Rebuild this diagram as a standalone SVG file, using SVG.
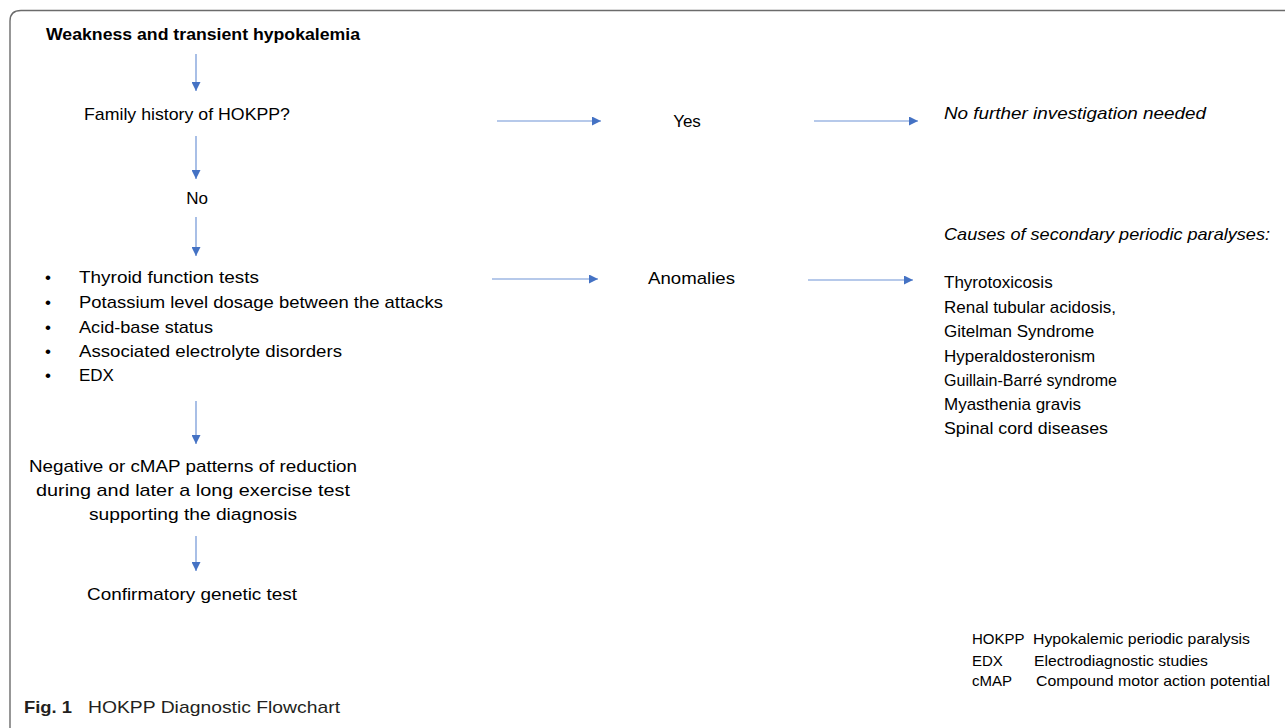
<svg xmlns="http://www.w3.org/2000/svg" width="1285" height="728" viewBox="0 0 1285 728">
  <defs>
    <marker id="ah" viewBox="0 0 10 10" refX="10" refY="5" markerWidth="9" markerHeight="9" markerUnits="userSpaceOnUse" orient="auto">
      <path d="M0,0 L10,5 L0,10 Z" fill="#4472C4"/>
    </marker>
    <style>
      text { font-family: "Liberation Sans", Arial, sans-serif; fill: #000; }
      .t { font-size: 17px; }
      .b { font-weight: bold; }
      .i { font-style: italic; }
      .s { font-size: 15px; }
      .cap { font-size: 17px; fill: #231f20; }
      .c { text-anchor: middle; }
      .edge { stroke: #6f94d6; stroke-width: 1.2; fill: none; marker-end: url(#ah); }
      .frame { stroke: #6b6b6b; stroke-width: 1.4; fill: none; }
    </style>
  </defs>
  <rect width="1285" height="728" fill="#fff"/>
  <path class="frame" d="M10,728 L10,21 Q10,10.5 21,10.5 L1285,10.5"/>

  <g id="connectors">
    <line class="edge" x1="196" y1="54" x2="196" y2="91"/>
    <line class="edge" x1="196" y1="136" x2="196" y2="179"/>
    <line class="edge" x1="196" y1="217" x2="196" y2="256"/>
    <line class="edge" x1="196" y1="401" x2="196" y2="444"/>
    <line class="edge" x1="196" y1="536" x2="196" y2="571"/>
    <line class="edge" x1="497" y1="121" x2="601" y2="121"/>
    <line class="edge" x1="814" y1="121" x2="918" y2="121"/>
    <line class="edge" x1="492" y1="279" x2="598" y2="279"/>
    <line class="edge" x1="808" y1="280" x2="913" y2="280"/>
  </g>

  <g id="n-start"><text class="t b" x="46" y="40" textLength="314" lengthAdjust="spacingAndGlyphs">Weakness and transient hypokalemia</text></g>
  <g id="n-family"><text class="t" x="84" y="120" textLength="206" lengthAdjust="spacingAndGlyphs">Family history of HOKPP?</text></g>
  <g id="n-yes"><text class="t c" x="687" y="127">Yes</text></g>
  <g id="n-nofurther"><text class="t i" x="944" y="119" textLength="262" lengthAdjust="spacingAndGlyphs">No further investigation needed</text></g>
  <g id="n-no"><text class="t c" x="197" y="204">No</text></g>
  <g id="n-tests">
    <text class="t" x="45" y="283">•</text><text class="t" x="79" y="283" textLength="180" lengthAdjust="spacingAndGlyphs">Thyroid function tests</text>
    <text class="t" x="45" y="308">•</text><text class="t" x="79" y="308" textLength="364" lengthAdjust="spacingAndGlyphs">Potassium level dosage between the attacks</text>
    <text class="t" x="45" y="333">•</text><text class="t" x="79" y="333" textLength="134" lengthAdjust="spacingAndGlyphs">Acid-base status</text>
    <text class="t" x="45" y="357">•</text><text class="t" x="79" y="357" textLength="263" lengthAdjust="spacingAndGlyphs">Associated electrolyte disorders</text>
    <text class="t" x="45" y="381">•</text><text class="t" x="79" y="381">EDX</text>
  </g>
  <g id="n-anomalies"><text class="t" x="648" y="284" textLength="87" lengthAdjust="spacingAndGlyphs">Anomalies</text></g>
  <g id="n-causes">
    <text class="t i" x="944" y="240" textLength="326" lengthAdjust="spacingAndGlyphs">Causes of secondary periodic paralyses:</text>
    <text class="t" x="944" y="288">Thyrotoxicosis</text>
    <text class="t" x="944" y="313">Renal tubular acidosis,</text>
    <text class="t" x="944" y="337">Gitelman Syndrome</text>
    <text class="t" x="944" y="362">Hyperaldosteronism</text>
    <text class="t" x="944" y="386" textLength="173" lengthAdjust="spacingAndGlyphs">Guillain-Barré syndrome</text>
    <text class="t" x="944" y="410">Myasthenia gravis</text>
    <text class="t" x="944" y="434" textLength="164" lengthAdjust="spacingAndGlyphs">Spinal cord diseases</text>
  </g>
  <g id="n-negative">
    <text class="t c" x="193" y="472" textLength="328" lengthAdjust="spacingAndGlyphs">Negative or cMAP patterns of reduction</text>
    <text class="t c" x="193" y="496" textLength="314" lengthAdjust="spacingAndGlyphs">during and later a long exercise test</text>
    <text class="t c" x="193" y="520" textLength="208" lengthAdjust="spacingAndGlyphs">supporting the diagnosis</text>
  </g>
  <g id="n-genetic"><text class="t" x="87" y="600" textLength="210" lengthAdjust="spacingAndGlyphs">Confirmatory genetic test</text></g>

  <g id="legend">
    <text class="s" x="972" y="644">HOKPP</text><text class="s" x="1033" y="644" textLength="217" lengthAdjust="spacingAndGlyphs">Hypokalemic periodic paralysis</text>
    <text class="s" x="972" y="666">EDX</text><text class="s" x="1034" y="666" textLength="174" lengthAdjust="spacingAndGlyphs">Electrodiagnostic studies</text>
    <text class="s" x="972" y="686">cMAP</text><text class="s" x="1036" y="686" textLength="234" lengthAdjust="spacingAndGlyphs">Compound motor action potential</text>
  </g>
  <g id="caption">
    <text class="cap b" x="24" y="713" textLength="48" lengthAdjust="spacingAndGlyphs">Fig. 1</text>
    <text class="cap" x="88" y="713" textLength="252" lengthAdjust="spacingAndGlyphs">HOKPP Diagnostic Flowchart</text>
  </g>
</svg>
